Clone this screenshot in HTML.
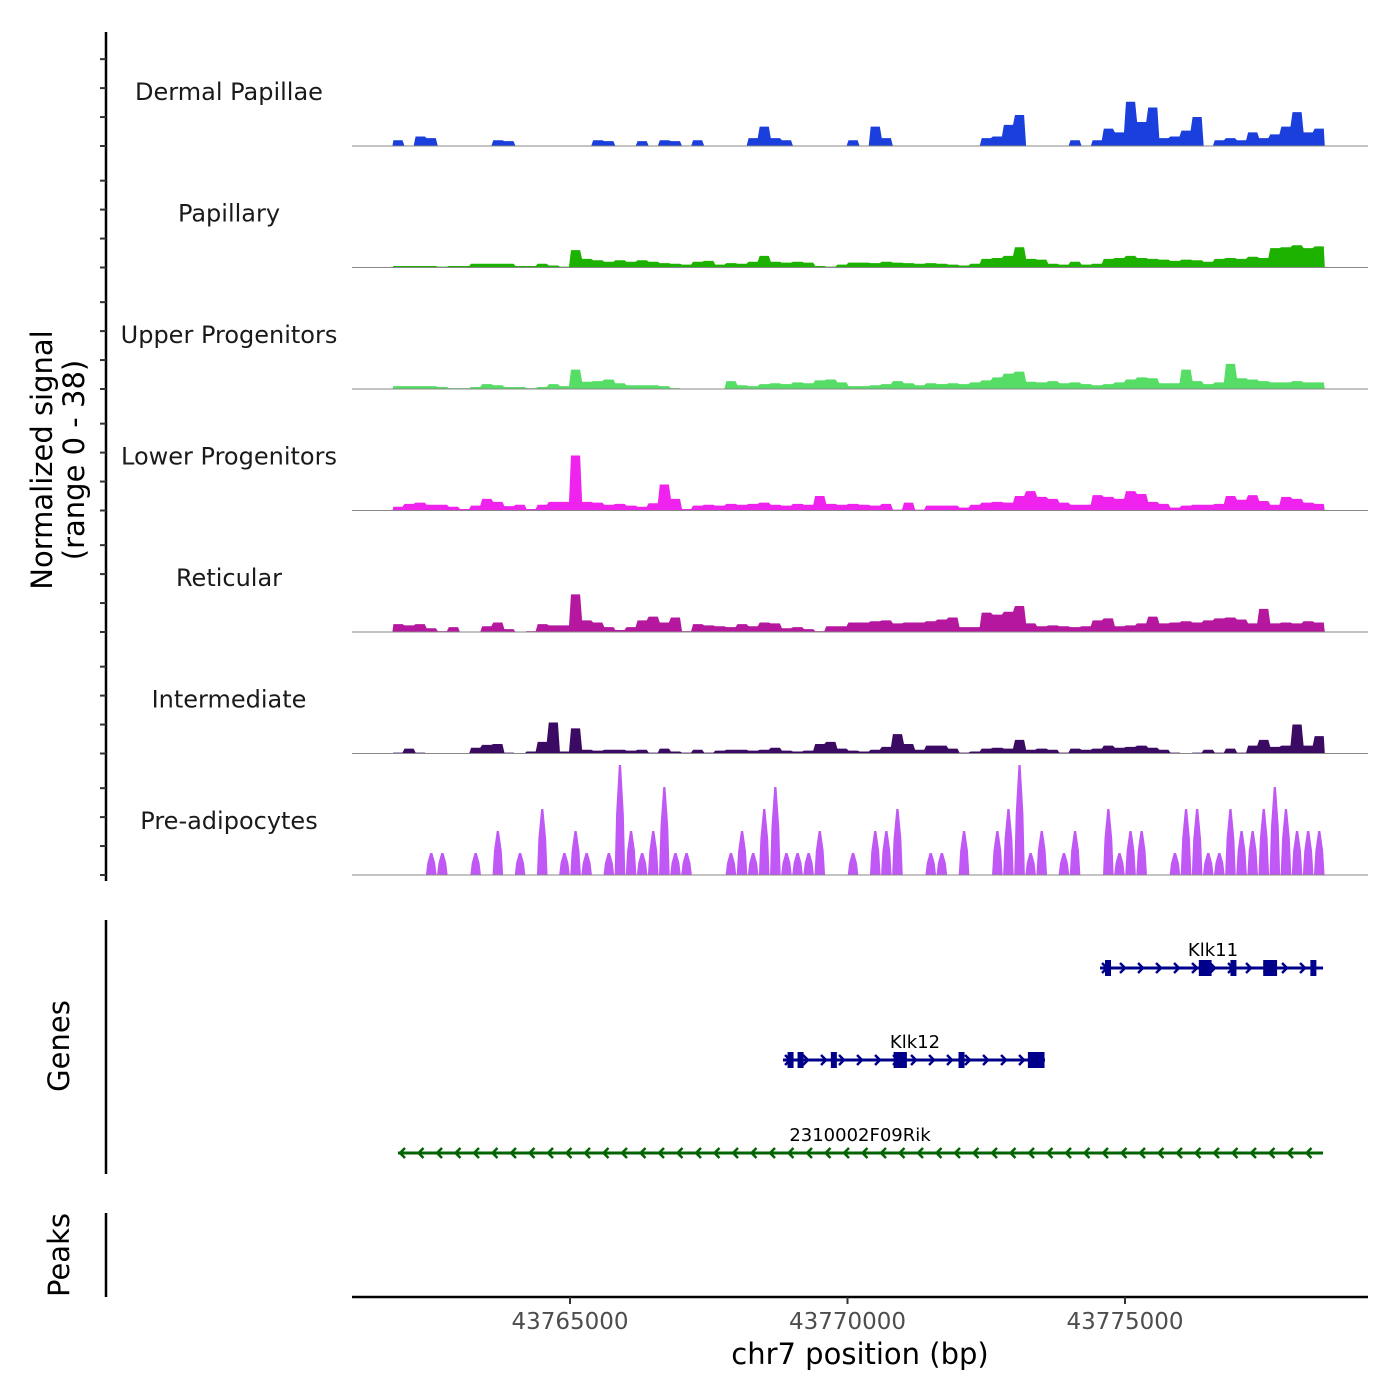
<!DOCTYPE html>
<html><head><meta charset="utf-8">
<style>
html,body{margin:0;padding:0;background:#fff;}
svg{display:block;font-family:"DejaVu Sans","Liberation Sans",sans-serif;}
</style></head>
<body>
<svg id="chart" width="1400" height="1400" viewBox="0 0 1400 1400" xmlns="http://www.w3.org/2000/svg">
<rect width="1400" height="1400" fill="#fff"/>
<g id="tracks"></g>
<g id="genes"></g>
<g id="axes"></g>
<text transform="translate(52,460) rotate(-90)" text-anchor="middle" font-size="29" fill="#000">Normalized signal</text>
<text transform="translate(84,460) rotate(-90)" text-anchor="middle" font-size="29" fill="#000">(range 0 - 38)</text>
<text transform="translate(69,1046) rotate(-90)" text-anchor="middle" font-size="29" fill="#000">Genes</text>
<text transform="translate(69,1255) rotate(-90)" text-anchor="middle" font-size="29" fill="#000">Peaks</text>
<text x="860" y="1364" text-anchor="middle" font-size="29" fill="#000">chr7 position (bp)</text>
</svg>
<script>
const trackNames = ["Dermal Papillae","Papillary","Upper Progenitors","Lower Progenitors","Reticular","Intermediate","Pre-adipocytes"];
const trackColors = ["#1a3fdc","#1db100","#55dd66","#f022ee","#b5179e","#3b0a62","#c058f5"];
const binStart = 43761800;
const binSize = 200;
const dermal = [2,0,3.3,2.7,0,0,0,0,0,2,1.7,0,0,0,0,0,0,0,2,1.7,0,0,1.7,0,2,1.7,0,2,0,0,0,0,2.7,6.7,2.7,2,0,0,0,0,0,2,0,6.7,2.7,0,0,0,0,0,0,0,0,2.7,3.3,7.3,10.7,0,0,0,0,2,0,2,6,4.7,15.3,8.3,13.3,2.7,3.3,5.3,10,0,2,2.7,2,4.7,2.7,4,6.7,11.7,4.7,6];
const papillary = [0.5,0.5,0.5,0.5,0.3,0.5,0.5,1.3,1.3,1.3,1.3,0.5,0.5,1.3,0.7,0.3,6,3,2.5,2,2.5,2,2.5,2,1.5,1.3,1,2,2.3,1,1.5,1.3,2,4,2,1.7,2,1.7,0.5,0.3,1,1.7,1.7,1.5,2,1.7,1.5,1.3,1.5,1.3,1,0.7,1.3,3,3.3,4,7,3,2.7,1.3,1,2,1,1.3,3,3.3,4,3.3,3,2.7,2.3,2.7,2.5,2,3,3.3,3,3.7,3.3,6.7,7,7.7,6.7,7.3];
const upperProg = [1,1,1,1,0.7,0.3,0.3,0.7,1.7,1.3,0.7,0.7,0.3,0.7,1.7,1,6.7,2.5,2.7,3.3,2,1.3,1.3,1.3,1,0.3,0,0,0,0,2.7,1.3,1,1.7,2,1.7,2.3,2,3,3.3,2.3,1,1,1.3,1.7,2.7,2,1.3,2,1.7,2,1.7,2.3,3,4,5.3,6,2.5,2.3,2.7,2,2.3,1.7,1.3,1.7,2.3,3.3,4,3.7,2,2,6.7,2.7,1.7,2.3,8.7,3.7,3.3,2.7,2.3,2.3,2.7,2.3,2.3];
const lowerProg = [1.3,2.3,2.7,2,2,1.3,0.5,1.7,4,3,1.5,2,0.5,2,3,3,19,3,2.7,2,2.3,1.7,1.3,2.5,9,4,0.5,1.7,2,1.7,2.3,2,2.3,2.7,2,1.7,2.3,2,5,2.3,2,2.3,2,1.7,2.3,0.3,2.7,0.3,1.7,1.7,1.7,1,2,2.7,3,2.7,5,6.7,4.7,4,2.7,2,2,5.3,4.7,4,6.7,5.7,3,2.3,1,1.7,2,2,2.3,5,3.7,5.3,3.3,2,4.7,4,2.7,2.3];
const reticular = [2.7,2.3,2.7,1.3,0.3,1.7,0,0,2,3.3,1,0,0.3,2.7,2.3,2.3,13,4,3.3,1.7,0.7,1.7,4,5.3,3.3,5,0.3,2.7,2.3,2,1.7,2.7,2,3.3,3,1.3,1.7,1,0.3,2,2,3.3,3.3,3.7,4,3,3.3,3.3,3.7,4.3,5,1.7,1.7,6.7,6,7,9,3,2,2.3,2,1.7,2,4,4.7,2,2.3,3,5.3,3,3.3,3.7,3.3,4,4.7,5,4.3,3,8,3,3.3,3,3.7,3.3];
const intermediate = [0.3,1.7,0.3,0,0,0,0,2,3,3.3,0.3,0,0.7,4,10.7,0.7,8.7,1.3,1,1.3,1.3,1,1.3,0.3,1.7,0.7,0.3,1.3,0.3,1,1.3,1.3,1,1.3,2,1,0.7,1,3.3,4,1.7,1,0.7,1.3,2.3,6.7,3.3,1.3,2.7,2.7,1.7,0.3,0.7,1.7,2,1.7,4.7,1.3,1.7,1.3,0.3,1.7,1.3,1.7,2.7,2,2.3,2.7,2,1.3,0.3,0,0.3,1.3,0.3,1.7,0.3,2.7,4.7,2.3,2.7,10,2.7,6];
const preAdipocytes = [0,0,0,7.6,7.6,0,0,7.6,0,15.2,0,7.6,0,22.8,0,7.6,15.2,7.6,0,7.6,38,15.2,7.6,15.2,30.4,7.6,7.6,0,0,0,7.6,15.2,7.6,22.8,30.4,7.6,7.6,7.6,15.2,0,0,7.6,0,15.2,15.2,22.8,0,0,7.6,7.6,0,15.2,0,0,15.2,22.8,38,7.6,15.2,0,7.6,15.2,0,0,22.8,7.6,15.2,15.2,0,0,7.6,22.8,22.8,7.6,7.6,22.8,15.2,15.2,22.8,30.4,22.8,15.2,15.2,15.2];
const trackData = [dermal,papillary,upperProg,lowerProg,reticular,intermediate,preAdipocytes];
const xTicks = [43765000,43770000,43775000];
const yTicks = [0,10,20,30];
const geneNames = ["Klk11","Klk12","2310002F09Rik"];
const geneStarts = [43774550,43768838,43761901];
const geneEnds = [43778568,43773559,43778568];
const geneStrands = ["+","+","-"];
const klk11Exons = [[43774640,43774710],[43776330,43776560],[43776900,43776990],[43777490,43777740],[43778340,43778430]];
const klk12Exons = [[43768920,43769010],[43769100,43769190],[43769700,43769780],[43770830,43771070],[43772000,43772090],[43773250,43773550]];
const rikExons = [];
const geneExons = [klk11Exons,klk12Exons,rikExons];

const NS="http://www.w3.org/2000/svg";
function mk(tag,attrs,parent){const e=document.createElementNS(NS,tag);for(const k in attrs)e.setAttribute(k,attrs[k]);parent.appendChild(e);return e;}
const X0=352,X1=1368;
function xScale(bp){return 570+(bp-43765000)*(277.5/5000);}
const baseY0=146, trackStep=121.5, pxPerUnit=110/38;
function yScale(t,v){return baseY0+t*trackStep - v*pxPerUnit;}

const tg=document.getElementById('tracks');
trackData.forEach((vals,t)=>{
  const g=mk('g',{},tg);
  
  
  const base=yScale(t,0);
  let d='M'+xScale(binStart)+','+base;
  vals.forEach((v,i)=>{
    const xa=xScale(binStart+i*binSize), xb=xScale(binStart+(i+1)*binSize);
    const y=yScale(t,v);
    if(t===6){ const w=(xb-xa); d+=' L'+(xa+w*0.02)+','+base+' L'+(xa+w*0.15)+','+yScale(t,v*0.55)+' L'+(xa+w*0.4)+','+y+' L'+(xa+w*0.6)+','+y+' L'+(xa+w*0.85)+','+yScale(t,v*0.55)+' L'+(xa+w*0.98)+','+base; }
    else { d+=' L'+(xa+1)+','+y+' L'+(xb-1)+','+y; }
  });
  d+=' L'+xScale(binStart+vals.length*binSize)+','+base+' Z';
  const p=mk('path',{d:d,fill:trackColors[t],stroke:'none'},g);
  
  
  const bl=mk('line',{x1:X0,x2:X1,y1:base,y2:base,stroke:'#888',"stroke-width":1},g);
  
  
  const lab=mk('text',{x:229,y:base-46,"text-anchor":"middle","font-size":24,fill:'#1a1a1a'},g);
  lab.textContent=trackNames[t];
  
  
});

const ax=document.getElementById('axes');
const yl=mk('line',{x1:106,x2:106,y1:32,y2:881,stroke:'#000',"stroke-width":2.5},ax);


for(let t=0;t<7;t++){yTicks.forEach(v=>{const y=yScale(t,v);const tk=mk('line',{x1:100,x2:106,y1:y,y2:y,stroke:'#333',"stroke-width":2},ax);

});}
const gl=mk('line',{x1:106,x2:106,y1:920,y2:1174,stroke:'#000',"stroke-width":2.5},ax);


const pl=mk('line',{x1:106,x2:106,y1:1213,y2:1297,stroke:'#000',"stroke-width":2.5},ax);


const xl=mk('line',{x1:X0,x2:X1,y1:1297,y2:1297,stroke:'#000',"stroke-width":2.5},ax);


xTicks.forEach(b=>{const x=xScale(b);
const tk=mk('line',{x1:x,x2:x,y1:1297,y2:1304,stroke:'#333',"stroke-width":2},ax);


const tl=mk('text',{x:x,y:1329,"text-anchor":"middle","font-size":23,fill:'#4d4d4d'},ax);tl.textContent=String(b);

});

const gg=document.getElementById('genes');
const geneY=[968,1060,1153];
const geneCol=["#00008b","#00008b","#006400"];
geneNames.forEach((n,i)=>{
  const g=mk('g',{},gg);
  
  
  const y=geneY[i], c=geneCol[i], xs=xScale(geneStarts[i]), xe=xScale(geneEnds[i]);
  mk('line',{x1:xs,x2:xe,y1:y,y2:y,stroke:c,"stroke-width":3},g);
  const step=i===2?18.5:18;
  for(let x=xs+6;x<=xe-2;x+=step){
    if(geneStrands[i]==='+') mk('polyline',{points:(x-4)+','+(y-5)+' '+(x+1)+','+y+' '+(x-4)+','+(y+5),fill:'none',stroke:c,"stroke-width":2.5},g);
    else mk('polyline',{points:(x+1)+','+(y-5)+' '+(x-4)+','+y+' '+(x+1)+','+(y+5),fill:'none',stroke:c,"stroke-width":2.5},g);
  }
  geneExons[i].forEach(e=>{const a=xScale(e[0]),b=xScale(e[1]);
    const r=mk('rect',{x:a,y:y-8,width:Math.max(b-a,6),height:16,fill:c},g);
    
    });
  const t=mk('text',{x:i===0?1213:i===1?915:860,y:y-12,"text-anchor":"middle","font-size":18,fill:'#000'},g);
  t.textContent=n;
  
  
});
</script>
</body></html>
